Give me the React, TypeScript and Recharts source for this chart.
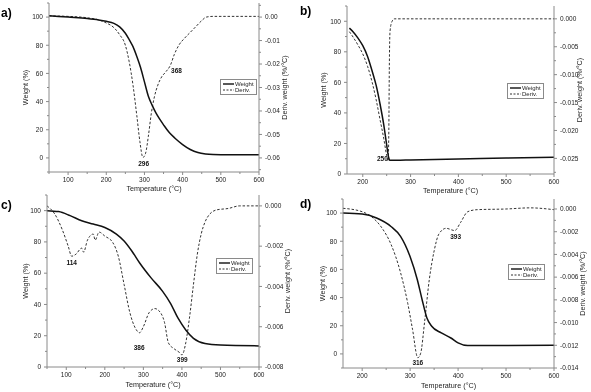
import React from 'react';
import { LineChart, Line, XAxis, YAxis, ReferenceDot, Legend } from 'recharts';

const FONT = '"Liberation Sans", Arial, sans-serif';
const FRAME = '#8a8a8a';
const INK = '#222';

// ---- panel a ----
const aWeightT = [50, 75, 100, 150, 180, 200, 220, 235, 250, 260, 270, 280, 290, 300, 310, 320, 330, 340, 350, 365, 380, 400, 420, 440, 460, 480, 500, 600];
const aWeight = [101, 100.5, 100, 99, 98, 97, 95.5, 93, 88.5, 84, 79, 72, 64, 54, 44, 37.5, 32, 27.5, 23.5, 18, 14, 9.5, 6, 3.8, 2.8, 2.4, 2.3, 2.3];
const aDerivT = [50, 100, 150, 180, 200, 220, 235, 250, 260, 270, 280, 288, 296, 303, 310, 318, 326, 335, 345, 355, 368, 378, 390, 405, 420, 435, 450, 462, 480, 600];
const aDeriv = [0.0005, 0.0003, -0.0003, -0.0012, -0.0025, -0.0045, -0.0075, -0.012, -0.019, -0.029, -0.042, -0.053, -0.0598, -0.058, -0.051, -0.041, -0.034, -0.029, -0.0255, -0.0235, -0.0205, -0.016, -0.012, -0.009, -0.0065, -0.004, -0.0015, 0, 0.0003, 0.0003];

// ---- panel b ----
const bWeightT = [172, 180, 190, 200, 210, 220, 228, 236, 244, 250, 254, 257, 270, 300, 400, 500, 600];
const bWeight = [95.5, 93, 89, 84, 77, 67, 58, 46, 32, 19, 11, 9, 9, 9.2, 9.8, 10.5, 11];
const bDerivT = [172, 180, 190, 200, 210, 220, 228, 236, 244, 250, 253, 254.5, 255.5, 257, 261, 266, 400, 600];
const bDeriv = [-0.0023, -0.0033, -0.0047, -0.0063, -0.0085, -0.0115, -0.0145, -0.018, -0.0215, -0.0245, -0.0255, -0.02, -0.009, -0.0022, -0.0005, 0, 0, 0];

// ---- panel c ----
const cWeightT = [50, 80, 110, 140, 170, 200, 230, 250, 270, 290, 320, 350, 370, 390, 410, 430, 460, 500, 600];
const cWeight = [100, 99.4, 96.8, 93.5, 91.4, 89.2, 85, 80.6, 74.2, 66.7, 57, 48.4, 40.9, 31.2, 23.7, 18.3, 15, 14, 13.5];
const cDerivT = [50, 70, 90, 105, 114, 125, 140, 145, 155, 170, 175, 185, 200, 220, 235, 250, 265, 280, 290, 300, 315, 330, 340, 355, 365, 380, 395, 400, 410, 420, 430, 440, 450, 460, 470, 490, 520, 550, 600];
const cDeriv = [0, -0.0004, -0.0012, -0.002, -0.0025, -0.0024, -0.0021, -0.0023, -0.0017, -0.0014, -0.0017, -0.0013, -0.0015, -0.0018, -0.0025, -0.0039, -0.0053, -0.0061, -0.0063, -0.006, -0.0053, -0.0051, -0.0052, -0.0058, -0.0068, -0.0071, -0.0073, -0.0074, -0.0068, -0.0055, -0.0039, -0.0024, -0.0014, -0.0008, -0.00046, -0.0002, -0.00013, 0, 0];

// ---- panel d ----
const dWeightT = [160, 200, 230, 260, 280, 300, 315, 325, 335, 345, 365, 385, 400, 420, 600];
const dWeight = [100, 99.3, 96.5, 90.5, 83.5, 69, 52.7, 38.5, 25.5, 19.6, 14.9, 11.3, 7.8, 5.9, 6.1];
const dDerivT = [160, 200, 220, 240, 260, 280, 295, 305, 316, 322, 330, 340, 350, 360, 375, 393, 405, 420, 440, 500, 550, 600];
const dDeriv = [0.00006, -0.00024, -0.0007, -0.0016, -0.0031, -0.0056, -0.0083, -0.0106, -0.0131, -0.0127, -0.01, -0.0062, -0.0037, -0.0022, -0.0017, -0.0019, -0.0012, -0.00024, -0.00006, 0, 0.0001, -0.00006];

// ---- axes / annotations ----
const xTicks100 = [100, 200, 300, 400, 500, 600];
const xTicks200 = [200, 300, 400, 500, 600];
const weightTicks = [0, 20, 40, 60, 80, 100];
const aRightTicks = [0, -0.01, -0.02, -0.03, -0.04, -0.05, -0.06];
const bRightTicks = [0, -0.005, -0.01, -0.015, -0.02, -0.025];
const cRightTicks = [0, -0.002, -0.004, -0.006, -0.008];
const dRightTicks = [0, -0.002, -0.004, -0.006, -0.008, -0.01, -0.012, -0.014];

const aPeaks = [{ t: 298, d: -0.0626, text: '296' }, { t: 384, d: -0.023, text: '368' }];
const bPeaks = [{ t: 241, d: -0.025, text: '250' }];
const cPeaks = [{ t: 114, d: -0.00283, text: '114' }, { t: 289, d: -0.00706, text: '386' }, { t: 401, d: -0.00764, text: '399' }];
const dPeaks = [{ t: 316, d: -0.01356, text: '316' }, { t: 395, d: -0.00242, text: '393' }];

const zip = (ts: number[], vs: number[]) => ts.map((t, i) => ({ t, v: vs[i] }));

// minor ticks halfway between majors
const withMinor = (major: number[], lo: number, hi: number) => {
  const step = Math.abs(major[1] - major[0]) / 2;
  const start = Math.min(...major);
  const out: number[] = [];
  for (let k = -40; k <= 40; k++) {
    const v = +(start + k * step).toFixed(6);
    if (v >= lo - 1e-9 && v <= hi + 1e-9) out.push(v);
  }
  return out;
};
const isMajor = (major: number[], v: number) => major.some((m) => Math.abs(m - v) < 1e-9);

const txt = { fontFamily: FONT, fontSize: 6.5, fill: INK };

const BottomTick = ({ x, y, payload, major }: any) => {
  const m = isMajor(major, payload.value);
  return (
    <g>
      <line x1={x} x2={x} y1={y} y2={y + (m ? 3 : 2)} stroke={FRAME} />
      {m && <text x={x} y={y + 9.5} textAnchor="middle" {...txt}>{payload.value}</text>}
    </g>
  );
};

const TopTick = ({ x, y, payload, major }: any) => {
  const m = isMajor(major, payload.value);
  return <line x1={x} x2={x} y1={y} y2={y + (m ? 3 : 2)} stroke={FRAME} />;
};

const LeftTick = ({ x, y, payload, major }: any) => {
  const m = isMajor(major, payload.value);
  return (
    <g>
      <line x1={x - (m ? 3 : 2)} x2={x} y1={y} y2={y} stroke={FRAME} />
      {m && <text x={x - 6} y={y + 2.3} textAnchor="end" {...txt}>{payload.value}</text>}
    </g>
  );
};

const RightTick = ({ x, y, payload, major, digits }: any) => {
  const m = isMajor(major, payload.value);
  const v = Math.abs(payload.value) < 1e-12 ? 0 : payload.value;
  return (
    <g>
      <line x1={x} x2={x + (m ? 3 : 2)} y1={y} y2={y} stroke={FRAME} />
      {m && <text x={x + 6} y={y + 2.3} textAnchor="start" {...txt}>{v.toFixed(digits)}</text>}
    </g>
  );
};

const LegendBox = () => (
  <div style={{ border: `1px solid ${FRAME}`, background: '#fff', width: 35, padding: '1px 0', fontFamily: FONT, fontSize: 6, color: INK, lineHeight: '6px' }}>
    <div style={{ display: 'flex', alignItems: 'center' }}>
      <svg width={14} height={6}><line x1={2} x2={13} y1={3} y2={3} stroke="#111" strokeWidth={1.4} /></svg>
      <span>Weight</span>
    </div>
    <div style={{ display: 'flex', alignItems: 'center' }}>
      <svg width={14} height={6}><line x1={2} x2={13} y1={3} y2={3} stroke="#333" strokeDasharray="2 1.5" /></svg>
      <span>Deriv.</span>
    </div>
  </div>
);

interface PanelProps {
  left: number;
  top: number;
  width: number;
  height: number;
  marginTop: number;
  xAxisH: number;
  leftW: number;
  rightW: number;
  xDomain: [number, number];
  xMajor: number[];
  wDomain: [number, number];
  dDomain: [number, number];
  dMajor: number[];
  digits: number;
  weight: { t: number; v: number }[];
  deriv: { t: number; v: number }[];
  peaks: { t: number; d: number; text: string }[];
  legendPos: { left: number; top: number };
  yLabelX: number;
  rLabelX: number;
  xLabelDy: number;
  tag: string;
  tagPos: { left: number; top: number };
}

function Panel(p: PanelProps) {
  const xTicks = withMinor(p.xMajor, p.xDomain[0], p.xDomain[1]);
  const wTicks = withMinor(weightTicks, p.wDomain[0], p.wDomain[1]);
  const dTicks = withMinor(p.dMajor, p.dDomain[0], p.dDomain[1]);
  return (
    <div style={{ position: 'absolute', left: p.left, top: p.top, width: p.width, height: p.height }}>
      <LineChart width={p.width} height={p.height} margin={{ top: p.marginTop, right: 0, bottom: 0, left: 0 }}>
        <XAxis
          dataKey="t"
          type="number"
          domain={p.xDomain}
          ticks={xTicks}
          interval={0}
          height={p.xAxisH}
          allowDataOverflow
          stroke={FRAME}
          tickLine={false}
          tickSize={0}
          tickMargin={0}
          tick={(props: any) => <BottomTick {...props} major={p.xMajor} />}
          label={{
            content: ({ viewBox }: any) => (
              <text x={viewBox.x + viewBox.width / 2} y={viewBox.y + p.xLabelDy} textAnchor="middle" fontFamily={FONT} fontSize={7.2} fill={INK}>
                Temperature (°C)
              </text>
            ),
          }}
        />
        <XAxis
          xAxisId="top"
          orientation="top"
          dataKey="t"
          type="number"
          domain={p.xDomain}
          ticks={xTicks}
          interval={0}
          height={0}
          allowDataOverflow
          stroke={FRAME}
          tickLine={false}
          tickSize={0}
          tickMargin={0}
          tick={(props: any) => <TopTick {...props} major={p.xMajor} />}
        />
        <YAxis
          yAxisId="w"
          type="number"
          domain={p.wDomain}
          ticks={wTicks}
          interval={0}
          width={p.leftW}
          allowDataOverflow
          stroke={FRAME}
          tickLine={false}
          tickSize={0}
          tickMargin={0}
          tick={(props: any) => <LeftTick {...props} major={weightTicks} />}
          label={{
            content: ({ viewBox }: any) => {
              const x = viewBox.x + p.yLabelX;
              const y = viewBox.y + viewBox.height / 2;
              return (
                <text x={x} y={y} transform={`rotate(-90 ${x} ${y})`} textAnchor="middle" fontFamily={FONT} fontSize={7.2} fill={INK}>
                  Weight (%)
                </text>
              );
            },
          }}
        />
        <YAxis
          yAxisId="d"
          orientation="right"
          type="number"
          domain={p.dDomain}
          ticks={dTicks}
          interval={0}
          width={p.rightW}
          allowDataOverflow
          stroke={FRAME}
          tickLine={false}
          tickSize={0}
          tickMargin={0}
          tick={(props: any) => <RightTick {...props} major={p.dMajor} digits={p.digits} />}
          label={{
            content: ({ viewBox }: any) => {
              const x = viewBox.x + p.rLabelX;
              const y = viewBox.y + viewBox.height / 2;
              return (
                <text x={x} y={y} transform={`rotate(-90 ${x} ${y})`} textAnchor="middle" fontFamily={FONT} fontSize={7.2} fill={INK}>
                  Deriv. weight (%/°C)
                </text>
              );
            },
          }}
        />
        <Line
          yAxisId="d"
          data={p.deriv}
          dataKey="v"
          type="monotone"
          stroke="#333"
          strokeWidth={1}
          strokeDasharray="2.5 1.8"
          dot={false}
          isAnimationActive={false}
        />
        <Line
          yAxisId="w"
          data={p.weight}
          dataKey="v"
          type="monotone"
          stroke="#111"
          strokeWidth={1.5}
          dot={false}
          isAnimationActive={false}
        />
        {p.peaks.map((pk) => (
          <ReferenceDot
            key={pk.text}
            yAxisId="d"
            x={pk.t}
            y={pk.d}
            r={0}
            fill="none"
            stroke="none"
            ifOverflow="visible"
            label={{ value: pk.text, position: 'center', fontFamily: FONT, fontSize: 6.5, fontWeight: 700, fill: '#111' }}
          />
        ))}
        <Legend
          layout="horizontal"
          verticalAlign="middle"
          align="center"
          content={() => <LegendBox />}
          wrapperStyle={{ left: p.legendPos.left, top: p.legendPos.top, width: 'auto' }}
        />
      </LineChart>
      <div style={{ position: 'absolute', left: p.tagPos.left, top: p.tagPos.top, fontFamily: FONT, fontWeight: 700, fontSize: 12, lineHeight: '12px', color: '#000' }}>
        {p.tag}
      </div>
    </div>
  );
}

export default function App() {
  return (
    <div style={{ position: 'absolute', left: 0, top: 0, width: 591, height: 392, background: '#fff', overflow: 'hidden', filter: 'grayscale(1)' }}>
      <Panel
        left={0} top={0} width={300} height={195}
        marginTop={3} xAxisH={23} leftW={49} rightW={41}
        xDomain={[50, 600]} xMajor={xTicks100}
        wDomain={[-10, 110]} dDomain={[-0.066, 0.006]} dMajor={aRightTicks} digits={2}
        weight={zip(aWeightT, aWeight)} deriv={zip(aDerivT, aDeriv)} peaks={aPeaks}
        legendPos={{ left: 220, top: 79 }}
        yLabelX={28} rLabelX={28} xLabelDy={19}
        tag="a)" tagPos={{ left: 1, top: 7 }}
      />
      <Panel
        left={295} top={0} width={296} height={195}
        marginTop={6} xAxisH={21} leftW={52} rightW={37}
        xDomain={[167, 600]} xMajor={xTicks200}
        wDomain={[0, 110]} dDomain={[-0.0278, 0.0023]} dMajor={bRightTicks} digits={3}
        weight={zip(bWeightT, bWeight)} deriv={zip(bDerivT, bDeriv)} peaks={bPeaks}
        legendPos={{ left: 212, top: 83 }}
        yLabelX={31} rLabelX={28} xLabelDy={19}
        tag="b)" tagPos={{ left: 5, top: 5 }}
      />
      <Panel
        left={0} top={192} width={300} height={200}
        marginTop={3} xAxisH={25} leftW={47} rightW={41}
        xDomain={[50, 600]} xMajor={xTicks100}
        wDomain={[0, 110]} dDomain={[-0.008, 0.00054]} dMajor={cRightTicks} digits={3}
        weight={zip(cWeightT, cWeight)} deriv={zip(cDerivT, cDeriv)} peaks={cPeaks}
        legendPos={{ left: 216, top: 66 }}
        yLabelX={28} rLabelX={31} xLabelDy={19.5}
        tag="c)" tagPos={{ left: 1, top: 7 }}
      />
      <Panel
        left={295} top={192} width={296} height={200}
        marginTop={7} xAxisH={24} leftW={48} rightW={37}
        xDomain={[160, 600]} xMajor={xTicks200}
        wDomain={[-10, 110]} dDomain={[-0.014, 0.00088]} dMajor={dRightTicks} digits={3}
        weight={zip(dWeightT, dWeight)} deriv={zip(dDerivT, dDeriv)} peaks={dPeaks}
        legendPos={{ left: 213, top: 72 }}
        yLabelX={30} rLabelX={31} xLabelDy={20}
        tag="d)" tagPos={{ left: 5, top: 6 }}
      />
    </div>
  );
}
